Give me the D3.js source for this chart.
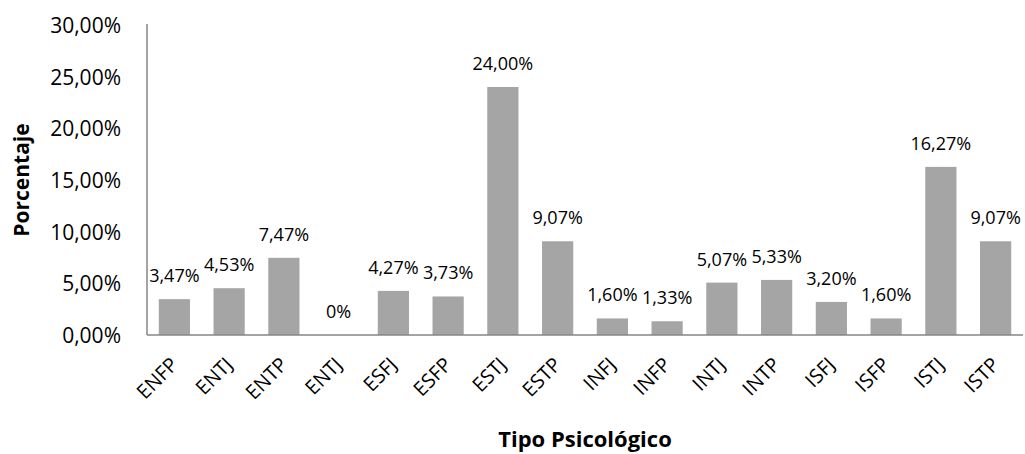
<!DOCTYPE html>
<html><head><meta charset="utf-8">
<script src="https://cdn.jsdelivr.net/npm/d3@7"></script>
<style>body{margin:0;background:#fff}svg{display:block}text{font-family:"Open Sans",sans-serif;fill:#000}</style>
</head><body><svg id="c" width="1025" height="454"></svg>
<script>
const categories = ["ENFP","ENTJ","ENTP","ENTJ","ESFJ","ESFP","ESTJ","ESTP","INFJ","INFP","INTJ","INTP","ISFJ","ISFP","ISTJ","ISTP"];
const values = [3.47,4.53,7.47,0,4.27,3.73,24.00,9.07,1.60,1.33,5.07,5.33,3.20,1.60,16.27,9.07];
const valueLabels = ["3,47%","4,53%","7,47%","0%","4,27%","3,73%","24,00%","9,07%","1,60%","1,33%","5,07%","5,33%","3,20%","1,60%","16,27%","9,07%"];
const yTicks = [0,5,10,15,20,25,30];
const yTickLabels = ["0,00%","5,00%","10,00%","15,00%","20,00%","25,00%","30,00%"];

const svg = d3.select("#c");
const L=147, R=1023, T=25, B=335;
const x = d3.scaleBand().domain(d3.range(categories.length)).range([L,R]).paddingInner(0.43).paddingOuter(0.215);
const y = d3.scaleLinear().domain([0,30]).range([B,T]);

svg.selectAll("rect.bar").data(values).join("rect").attr("class","bar")
  .attr("x",(d,i)=>x(i)).attr("width",x.bandwidth())
  .attr("y",d=>y(d)).attr("height",d=>B-y(d)).attr("fill","#a5a5a5");

// axes lines
svg.append("line").attr("x1",L).attr("x2",L).attr("y1",T-1).attr("y2",B).attr("stroke","#868686").attr("stroke-width",1.5);
svg.append("line").attr("x1",L).attr("x2",R).attr("y1",B).attr("y2",B).attr("stroke","#868686").attr("stroke-width",1.5);

const yAxis = d3.axisLeft(y).tickValues(yTicks).tickFormat((d,i)=>yTickLabels[i]).tickSize(0).tickPadding(26);
const ga = svg.append("g").attr("transform",`translate(${L},0)`).call(yAxis);
ga.select(".domain").remove();
ga.selectAll("text").style("font-family","'Open Sans',sans-serif").style("font-size","21px").attr("fill","#000").attr("dy","0.35em");

const xAxis = d3.axisBottom(x).tickFormat(i=>categories[i]).tickSize(0);
const gx = svg.append("g").attr("transform",`translate(0,${B})`).call(xAxis);
gx.select(".domain").remove();
gx.selectAll("text").style("font-family","'Open Sans',sans-serif").style("font-size","20px").attr("fill","#000")
  .attr("text-anchor","end").attr("dy",null).attr("y",0)
  .attr("transform","translate(5,31) rotate(-45)");

svg.selectAll("text.lbl").data(values).join("text").attr("class","lbl")
  .attr("x",(d,i)=>x(i)+x.bandwidth()/2)
  .attr("y",d=>Math.min(y(d)-17, B-9))
  .attr("text-anchor","middle").style("font-size","18px").text((d,i)=>valueLabels[i]);

svg.append("text").attr("transform",`translate(29,180) rotate(-90)`).attr("text-anchor","middle")
  .style("font-size","21px").style("font-weight","bold").text("Porcentaje");
svg.append("text").attr("x",585).attr("y",447).attr("text-anchor","middle")
  .style("font-size","22px").style("font-weight","bold").text("Tipo Psicológico");
</script></body></html>
